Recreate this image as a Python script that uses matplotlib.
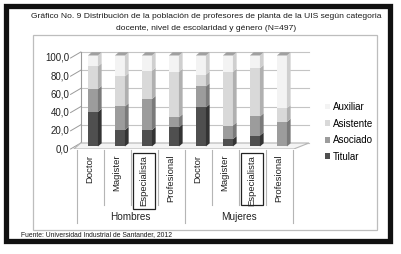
import matplotlib
matplotlib.use("Agg")
import matplotlib.pyplot as plt
from matplotlib.patches import Rectangle, Polygon, Patch

plt.rcParams['font.family'] = ['Liberation Sans', 'DejaVu Sans']

# ---------------- data ----------------
categories = ["Doctor", "Magister", "Especialista", "Profesional",
              "Doctor", "Magister", "Especialista", "Profesional"]
groups = ["Hombres", "Mujeres"]
series_names = ["Titular", "Asociado", "Asistente", "Auxiliar"]
titular = [38, 18, 18, 21, 43, 8, 12, 0]
asociado = [25, 26, 34, 11, 23, 15, 21, 27]
asistente = [25, 33, 31, 50, 13, 59, 53, 15]
auxiliar = [12, 23, 17, 18, 21, 18, 14, 58]
yticks = [0, 20, 40, 60, 80, 100]
ytick_labels = ["0,0", "20,0", "40,0", "60,0", "80,0", "100,0"]

front_colors = ["#4f4f4f", "#9c9c9c", "#d9d9d9", "#f3f3f3"]
side_colors = ["#333333", "#7a7a7a", "#b0b0b0", "#cfcfcf"]
top_color = "#a0a0a0"

W, H = 401, 254
fig = plt.figure(figsize=(W / 100, H / 100), dpi=100)

# outer black frame and inner chart border
fig.add_artist(Rectangle((5.5 / W, 1 - 241 / H), (390 - 5.5) / W, (241 - 6) / H,
                         transform=fig.transFigure, fill=False, ec="#111111", lw=3.8))
fig.add_artist(Rectangle((33 / W, 1 - 230 / H), (377 - 33) / W, (230 - 35) / H,
                         transform=fig.transFigure, fill=False, ec="#bdbdbd", lw=0.9))

# axes: x unit = one category (27 px), y in percent (0.91 px per unit)
px_per_cat = 27.0
px_per_pct = 0.91
ax_left_px, ax_right_px = 60, 312
ax_top_px, ax_bot_px = 40, 149
ax = fig.add_axes([ax_left_px / W, 1 - ax_bot_px / H,
                   (ax_right_px - ax_left_px) / W, (ax_bot_px - ax_top_px) / H])
ax.set_xlim((ax_left_px - 90) / px_per_cat, (ax_right_px - 90) / px_per_cat)
ax.set_ylim(0, (ax_bot_px - ax_top_px) / px_per_pct)
ax.axis("off")

DX = 7.0 / px_per_cat      # depth shift in x (category units)
DY = 6.0 / px_per_pct      # depth shift in y (percent units)


def P(x, y, z):
    return (x + z * DX, y + z * DY)


n = len(categories)
xl, xr = -0.5 - 0.1, n - 0.5 + 0.05
grid_c = "#c4c4c4"

# back wall gridlines, left side-wall tick diagonals
for t in yticks:
    ax.plot(*zip(P(xl, t, 1), P(xr + 0.3, t, 1)), color=grid_c, lw=0.8, zorder=1)
    ax.plot(*zip(P(xl - 0.12, t, 0), P(xl, t, 1)), color="#9a9a9a", lw=0.7, zorder=1,
            clip_on=False)
ax.plot(*zip(P(xl, 0, 1), P(xl, 100, 1)), color="#9a9a9a", lw=0.8, zorder=1)

# floor
floor = Polygon([P(xl, 0, 0), P(xr, 0, 0), P(xr + 0.3, 0, 1), P(xl, 0, 1)],
                closed=True, fc="#f4f4f4", ec="#b5b5b5", lw=0.8, zorder=2)
ax.add_patch(floor)

# bars (3D-looking stacks)
z0, z1 = 0.42, 0.95
bw = 0.37
stack = [titular, asociado, asistente, auxiliar]
for i in range(n):
    bottom = 0
    xc = i
    for s, vals in enumerate(stack):
        v = vals[i]
        if v <= 0:
            continue
        top = bottom + v
        fx, fy = P(xc, 0, z0)
        ax.bar(fx, v, width=bw, bottom=bottom + fy, color=front_colors[s],
               edgecolor="none", zorder=3 + i)
        side = Polygon([P(xc + bw / 2, bottom, z0), P(xc + bw / 2, bottom, z1),
                        P(xc + bw / 2, top, z1), P(xc + bw / 2, top, z0)],
                       closed=True, fc=side_colors[s], ec="none", zorder=3 + i)
        ax.add_patch(side)
        bottom = top
    topf = Polygon([P(xc - bw / 2, bottom, z0), P(xc + bw / 2, bottom, z0),
                    P(xc + bw / 2, bottom, z1), P(xc - bw / 2, bottom, z1)],
                   closed=True, fc=top_color, ec="none", zorder=3 + i)
    ax.add_patch(topf)

# y tick labels
for t, lab in zip(yticks, ytick_labels):
    ax.text(xl - 0.16, t, lab, ha="right", va="center", fontsize=7.0,
            color="#222222", clip_on=False)

# category axis: separators and labels
lab_top = -6.5
short_bot = -62
long_bot = -81
for b in range(n + 1):
    xb = b - 0.5
    bot = long_bot if b in (0, 4, 8) else short_bot
    ax.plot([xb, xb], [-1.5, bot], color="#b5b5b5", lw=0.8, clip_on=False)
for i, c in enumerate(categories):
    ax.text(i, lab_top, c, rotation=90, ha="center", va="top", fontsize=6.8,
            color="#222222", clip_on=False)
    if c == "Especialista":
        hgt = 61 if i < 4 else 57
        ax.add_patch(Rectangle((i - 0.42, -4.5 - hgt), 0.84, hgt, fill=False,
                               ec="#222222", lw=0.9, clip_on=False))
for g, name in enumerate(groups):
    ax.text(g * 4 + 1.5, -75, name, ha="center", va="center", fontsize=7.2,
            color="#222222", clip_on=False)

# legend
handles = [Patch(fc=front_colors[s], ec="none") for s in [3, 2, 1, 0]]
labels = [series_names[s] for s in [3, 2, 1, 0]]
fig.legend(handles, labels, loc="upper left", bbox_to_anchor=(325 / W, 1 - 102 / H),
           frameon=False, fontsize=7.0, handlelength=0.55, handleheight=0.55,
           handletextpad=0.3, labelspacing=0.68, borderpad=0, borderaxespad=0)

# title and source
fig.text(206 / W, 1 - 17 / H,
         "Gráfico No. 9 Distribución de la población de profesores de planta de la UIS según categoria",
         ha="center", va="center", fontsize=6.1, color="#1a1a1a")
fig.text(206 / W, 1 - 29 / H, "docente, nivel de escolaridad y género (N=497)",
         ha="center", va="center", fontsize=6.1, color="#1a1a1a")
fig.text(21 / W, 1 - 235 / H, "Fuente: Universidad Industrial de Santander, 2012",
         ha="left", va="center", fontsize=4.9, color="#1a1a1a")

fig.savefig("out.png", dpi=100)
